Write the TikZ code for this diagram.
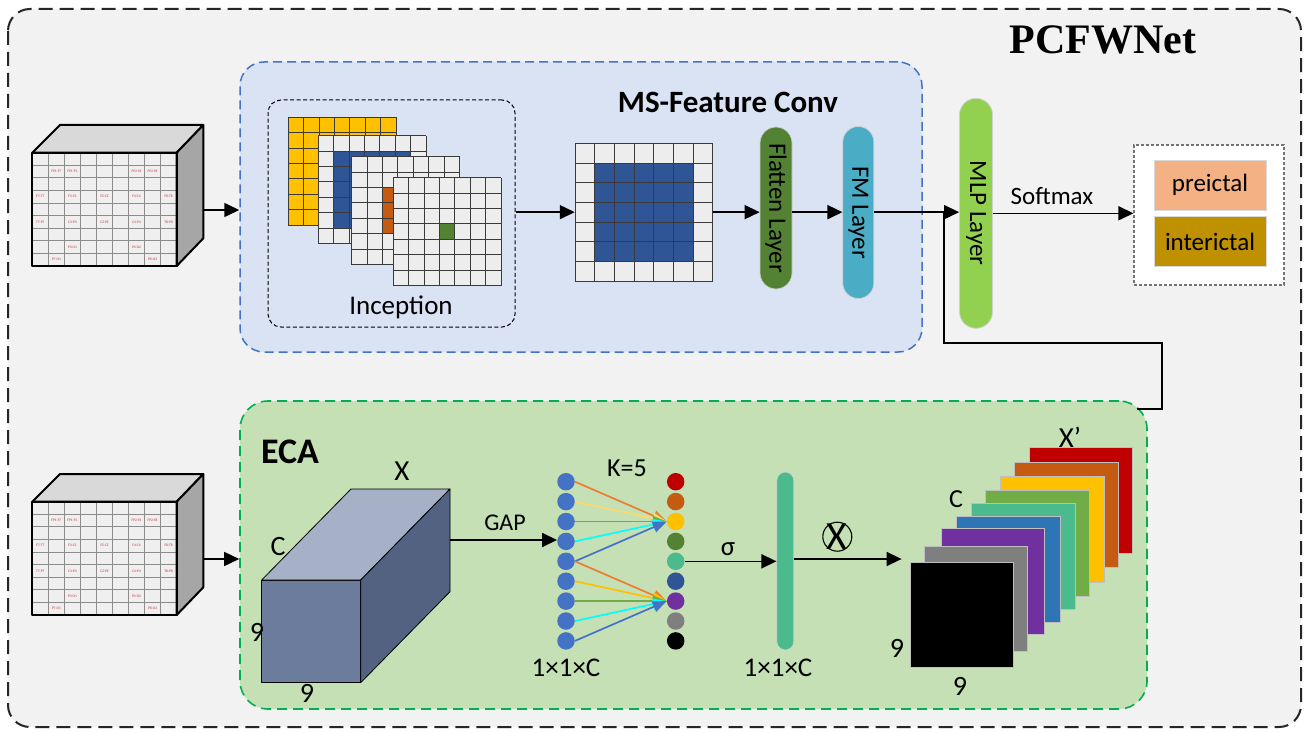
\documentclass[tikz,border=0pt]{standalone}
\usepackage{fontspec}
\usepackage{graphicx}
\setmainfont{Carlito}
\newfontfamily\timesfont{Liberation Serif}
\usetikzlibrary{arrows.meta,calc}

\definecolor{outerfill}{HTML}{F2F2F2}
\definecolor{msfill}{HTML}{DAE3F3}
\definecolor{msborder}{HTML}{4472C4}
\definecolor{ecafill}{HTML}{C5E0B4}
\definecolor{ecaborder}{HTML}{00B050}
\definecolor{cYellow}{HTML}{FFC000}
\definecolor{cBlueD}{HTML}{2F5597}
\definecolor{cOrange}{HTML}{C55A11}
\definecolor{cGreenD}{HTML}{548235}
\definecolor{cellfill}{HTML}{EDEDED}
\definecolor{gridln}{HTML}{3A3A3A}
\definecolor{cFM}{HTML}{4BACC6}
\definecolor{cMLP}{HTML}{92D050}
\definecolor{cPre}{HTML}{F4B183}
\definecolor{cInter}{HTML}{BF9000}
\definecolor{cTeal}{HTML}{4BBB8E}
\definecolor{cDot}{HTML}{4472C4}
\definecolor{cRed}{HTML}{C00000}
\definecolor{cPurple}{HTML}{7030A0}
\definecolor{cGray}{HTML}{7F7F7F}
\definecolor{cBlueM}{HTML}{2E75B6}
\definecolor{cGreenL}{HTML}{70AD47}
\definecolor{lOrange}{HTML}{ED7D31}
\definecolor{lYellow}{HTML}{FFD966}
\definecolor{lCyan}{HTML}{00FFFF}
\definecolor{cubFront}{HTML}{6B7C9D}
\definecolor{cubTop}{HTML}{A6B1C7}
\definecolor{cubRight}{HTML}{536281}
\definecolor{eegFront}{HTML}{EFEFEF}
\definecolor{eegTop}{HTML}{D9D9D9}
\definecolor{eegRight}{HTML}{A6A6A6}
\definecolor{eegGrid}{HTML}{8C8C8C}
\definecolor{eegText}{HTML}{C83030}

\newcommand{\fs}[1]{\fontsize{#1}{#1}\selectfont}

% 7x7 grid: #1 x0, #2 y0, #3 cell, #4 base colour, #5 inner colour, #6 first inner index, #7 last inner index
\newcommand{\sevengrid}[7]{%
  \fill[#4] (#1,#2) rectangle ({#1+7*#3},{#2+7*#3});
  \fill[#5] ({#1+#6*#3},{#2+#6*#3}) rectangle ({#1+(#7+1)*#3},{#2+(#7+1)*#3});
  \foreach \k in {0,...,7}{
    \draw[gridln,line width=0.9pt] ({#1+\k*#3},#2) -- ({#1+\k*#3},{#2+7*#3});
    \draw[gridln,line width=0.9pt] (#1,{#2+\k*#3}) -- ({#1+7*#3},{#2+\k*#3});
  }%
}

% EEG cube: #1 vertical shift, #2 name of output coordinate
\newcommand{\eegcube}[2]{%
  \begin{scope}[shift={(0,#1)}]
    \fill[eegFront] (32.3,152.7) rectangle (176.7,266);
    \foreach \k in {1,...,8}{
      \draw[eegGrid,line width=1.1pt] ({32.3+\k*16.04},152.7) -- ({32.3+\k*16.04},266);
      \draw[eegGrid,line width=1.1pt] (32.3,{152.7+\k*12.59}) -- (176.7,{152.7+\k*12.59});
    }
    \foreach \c/\r/\t in {1/1/FP1-F7,2/1/FP1-F3,6/1/FP2-F4,7/1/FP2-F8,
        0/3/F7-T7,2/3/F3-C3,4/3/FZ-CZ,6/3/F4-C4,8/3/F8-T8,
        0/5/T7-P7,2/5/C3-P3,4/5/CZ-PZ,6/5/C4-P4,8/5/T8-P8,
        2/7/P3-O1,6/7/P4-O2,1/8/P7-O1,7/8/P8-O2}{
      \node[eegtxt] (#2-\c-\r) at ({32.3+(\c+0.5)*16.04},{152.7+(\r+0.5)*12.59}) {\t};
    }
    \filldraw[eegTop,draw=black,line width=2pt,line join=round] (32.3,152.7) -- (60,125) -- (203.3,125) -- (176.7,152.7) -- cycle;
    \filldraw[eegRight,draw=black,line width=2pt,line join=round] (176.7,152.7) -- (203.3,125) -- (203.3,238.3) -- (176.7,266) -- cycle;
    \draw[black,line width=2pt,line join=round] (32.3,152.7) rectangle (176.7,266);
    \coordinate (#2) at (203.3,210);
  \end{scope}%
}

\begin{document}
\begin{tikzpicture}[x=1pt,y=-1pt,
  arr/.style={line width=1.6pt,-{Triangle[length=15pt,width=14pt]}},
  conn/.style={line width=1.6pt},
  lbl/.style={inner sep=0pt,font=\fs{25}},
  eegtxt/.style={inner sep=0pt,text=eegText,font=\fs{3.6}},
  pillbox/.style={draw=black!18,line width=0.7pt,inner sep=0pt},
  dot/.style={circle,inner sep=0pt,minimum size=17.5pt},
  karr/.style={line width=1.7pt,-{Triangle[length=14pt,width=11pt]}},
  sq/.style={draw=black!25,line width=0.8pt},
]
\useasboundingbox (0,0) rectangle (1309,733);
\fill[white] (0,0) rectangle (1309,733);

% outer frame
\filldraw[fill=outerfill,draw=black!85,line width=2pt,dash pattern=on 14pt off 7pt,rounded corners=22pt]
  (8,9) rectangle (1301,727);
\node[inner sep=0pt,font={\timesfont\bfseries\fs{42}}] (title) at (1103,40) {PCFWNet};

% MS-Feature Conv box
\node[draw=msborder,fill=msfill,line width=1.5pt,dash pattern=on 9pt off 5pt,rounded corners=24pt,
      minimum width=682pt,minimum height=290pt] (ms) at (581,207) {};
\node[inner sep=0pt,font={\bfseries\fs{31}}] (mstitle) at (728,102) {MS-Feature Conv};

% Inception box
\node[draw=black,line width=1pt,dash pattern=on 4pt off 2.5pt,rounded corners=13pt,
      minimum width=247pt,minimum height=227pt] (inc) at (391.5,213.5) {};
\sevengrid{288.3}{117.3}{15.4}{cYellow}{cYellow}{0}{6}
\sevengrid{318.3}{135.7}{15.4}{cellfill}{cBlueD}{1}{5}
\sevengrid{351.7}{156.7}{15.4}{cellfill}{cOrange}{2}{4}
\sevengrid{393.3}{177.7}{15.4}{cellfill}{cGreenD}{3}{3}
\node[inner sep=0pt,font=\fs{27}] (inctxt) at (401,307) {Inception};

% middle grid
\sevengrid{575}{143.3}{19.67}{cellfill}{cBlueD}{1}{5}
\node[inner sep=0pt,minimum width=137.7pt,minimum height=137.7pt] (mid) at (643.8,212.15) {};

% pills
\node[pillbox,fill=cGreenD,rounded corners=16pt,minimum width=32pt,minimum height=162pt,font=\fs{25}]
  (flat) at (776,208) {\rotatebox[origin=c]{-90}{Flatten Layer}};
\node[pillbox,fill=cFM,rounded corners=15.5pt,minimum width=31pt,minimum height=172pt,font=\fs{25}]
  (fm) at (858.3,212.5) {\rotatebox[origin=c]{-90}{FM Layer}};
\node[pillbox,fill=cMLP,rounded corners=16.5pt,minimum width=33pt,minimum height=230pt,font=\fs{25}]
  (mlp) at (976,213.3) {\rotatebox[origin=c]{-90}{MLP Layer}};

% output box
\node[draw=black!55,fill=white,line width=1.2pt,dash pattern=on 3pt off 2pt,
      minimum width=150pt,minimum height=140pt] (out) at (1209,215) {};
\node[draw=black!15,fill=cPre,line width=1pt,minimum width=112pt,minimum height=50pt,font=\fs{25}]
  (pre) at (1210,185) {preictal};
\node[draw=black!15,fill=cInter,line width=1pt,minimum width=112pt,minimum height=50pt,font=\fs{25}]
  (inter) at (1210,241.7) {interictal};

% ECA box
\node[draw=ecaborder,fill=ecafill,line width=1.6pt,dash pattern=on 10pt off 6pt,rounded corners=28pt,
      minimum width=907pt,minimum height=308pt] (eca) at (693.5,555) {};
\node[inner sep=0pt,font={\bfseries\fs{36}}] (ecatxt) at (290,452) {ECA};

% EEG cubes
\eegcube{0}{cubeA}
\eegcube{349}{cubeB}

% top row connectors
\draw[arr] (cubeA) -- (cubeA -| ms.west);
\draw[arr] (inc.east |- mid.center) -- (mid.west);
\draw[arr] (mid.east) -- (mid.east -| flat.west);
\draw[arr] (mid.east -| flat.east) -- (mid.east -| fm.west);
\draw[arr] (mid.east -| fm.east) -- (mid.east -| mlp.west);
\draw[arr] (mlp.east) -- (mlp.east -| out.west);
\node[lbl] (softtxt) at (1052,196) {Softmax};

% feedback connector from ECA to MLP
\coordinate (fb) at (1137,409);
\coordinate (fbj) at (944,213.3);
\draw[conn] (fb) -- (1162,409) -- (1162,343) -- (944,343) -- (fbj);

% ECA: cuboid X
\filldraw[fill=cubFront,draw=black,line width=0.8pt,line join=round] (261.7,580) rectangle (360.7,682.7);
\filldraw[fill=cubTop,draw=black,line width=0.8pt,line join=round] (261.7,580) -- (351,489) -- (450,489) -- (360.7,580) -- cycle;
\filldraw[fill=cubRight,draw=black,line width=0.8pt,line join=round] (360.7,580) -- (450,489) -- (450,591.7) -- (360.7,682.7) -- cycle;
\coordinate (xout) at (450,540);
\node[inner sep=0pt,font=\fs{29}] (xlab) at (402,471) {X};
\node[inner sep=0pt,font=\fs{28}] (clab) at (278,547) {C};
\node[inner sep=0pt,font=\fs{28}] (n9a) at (257,632) {9};
\node[inner sep=0pt,font=\fs{28}] (n9b) at (307,693) {9};

\draw[arr] (cubeB) -- (cubeB -| eca.west);

% dots
\foreach \i in {1,...,9}{
  \node[dot,fill=cDot] (d\i) at (566,{481.7+(\i-1)*19.9}) {};
}
\foreach \i/\c in {1/cRed,2/cOrange,3/cYellow,4/cGreenD,5/cTeal,6/cBlueD,7/cPurple,8/cGray,9/black}{
  \node[dot,fill=\c] (e\i) at (675.7,{481.7+(\i-1)*19.9}) {};
}
\draw[arr] (xout) -- (xout -| d4.west);
\node[inner sep=0pt,font=\fs{24}] (gaptxt) at (505,523) {GAP};
\node[inner sep=0pt,font=\fs{26}] (ktxt) at (627,468) {K=5};
\node[inner sep=0pt,font=\fs{27}] (c1txt) at (566,668) {1×1×C};

\foreach \s/\c in {1/lOrange,2/lYellow,3/cGreenL,4/lCyan,5/cDot}{
  \draw[karr,color=\c] (d\s.east) -- (e3.west);
}
\foreach \s/\c in {5/lOrange,6/cYellow,7/cGreenL,8/lCyan,9/cDot}{
  \draw[karr,color=\c] (d\s.east) -- (e7.west);
}

% sigma
\node[pillbox,fill=cTeal,rounded corners=8.5pt,minimum width=17pt,minimum height=178pt] (att) at (785.3,561) {};
\draw[arr] (e5.east) -- (e5.east -| att.west);
\node[inner sep=0pt,font=\fs{27}] (sigtxt) at (728,549) {σ};
\node[inner sep=0pt,font=\fs{27}] (c2txt) at (778,668) {1×1×C};

% otimes
\node[draw=black,circle,line width=1.1pt,minimum size=29pt,inner sep=0pt] (ot) at (837.3,536.7) {};
\node[inner sep=0pt,font=\fs{40}] (otx) at (837.3,536.7) {X};

% stack X'
\foreach \xa/\ya/\xb/\yb/\c in {
   1029/447.7/1132.3/553.3/cRed,
   1014.3/462.3/1118.3/567.7/cOrange,
   1000/476.7/1104/582.7/cYellow,
   985.7/490/1089.3/596/cGreenL,
   971.7/503.3/1075/609.3/cTeal,
   956.7/516.7/1060.7/622.7/cBlueM,
   941/528.3/1044/634.3/cPurple,
   924.3/546/1027.7/651.7/cGray}{
  \filldraw[sq,fill=\c] (\xa,\ya) rectangle (\xb,\yb);
}
\node[sq,fill=black,minimum width=103.3pt,minimum height=105pt,inner sep=0pt] (xfront) at (961.65,615.2) {};
\draw[arr,shorten >=8pt] (att.east |- 0,559) -- (xfront.west |- 0,559);
\node[inner sep=0pt,font=\fs{29}] (xplab) at (1070,437) {X’};
\node[inner sep=0pt,font=\fs{26}] (cplab) at (956,499) {C};
\node[inner sep=0pt,font=\fs{28}] (n9c) at (897,648) {9};
\node[inner sep=0pt,font=\fs{28}] (n9d) at (960,686) {9};

\end{tikzpicture}
\end{document}
